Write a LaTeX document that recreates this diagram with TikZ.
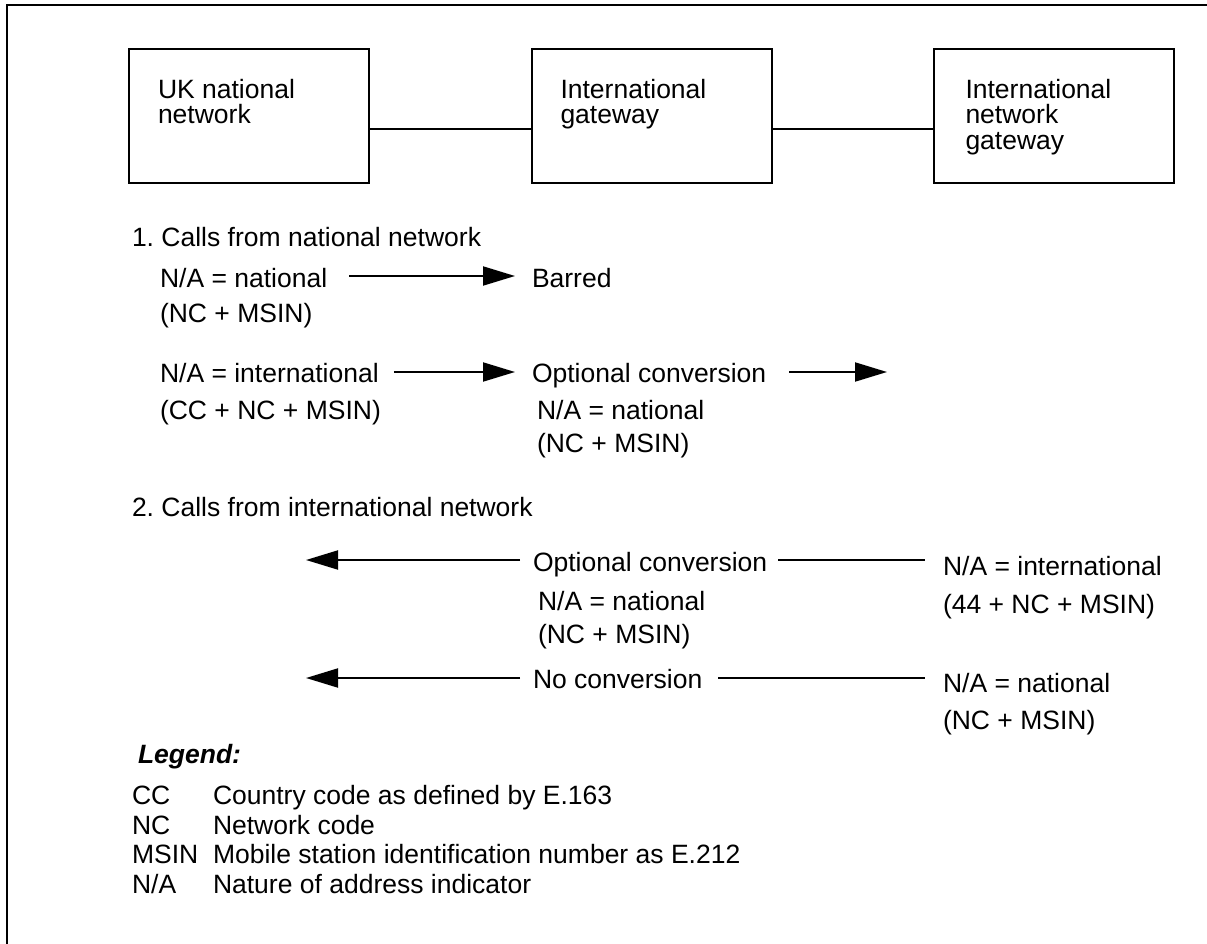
\documentclass[tikz,border=0pt]{standalone}
\usepackage{fontspec}
\setmainfont{Liberation Sans}
\usetikzlibrary{positioning,arrows.meta}
\frenchspacing

\begin{document}
\begin{tikzpicture}[x=1pt, y=-1pt,
    every node/.style={inner sep=0pt, outer sep=0pt, font=\fontsize{26.5pt}{25.5pt}\selectfont},
    box/.style={draw, line width=2pt, minimum width=240pt, minimum height=134pt},
    boxtxt/.style={anchor=north west, align=left},
    txt/.style={anchor=base west},
    link/.style={line width=2pt},
    flow/.style={line width=2pt, -{Triangle[length=32pt, width=19pt]}}]
\useasboundingbox (0,0) rectangle (1207,944);
\draw[line width=2.5pt] (7,960) -- (7,5) -- (1220,5);

\node    (uk)      [box]       at (249,116)      {};
\node    (igw)     [box]       at (651.5,116)    {};
\node    (ingw)    [box]       at (1053.5,116)   {};
\node    (ukT)     [boxtxt]    at ([xshift=29pt,yshift=-30pt]uk.north west)      {UK national\\network};
\node    (igwT)    [boxtxt]    at ([xshift=29pt,yshift=-30pt]igw.north west)     {International\\gateway};
\node    (ingwT)   [boxtxt]    at ([xshift=32pt,yshift=-30pt]ingw.north west)    {International\\network\\gateway};

\path    ([yshift=-13pt]uk.east)     edge[link]    ([yshift=-13pt]igw.west);
\path    ([yshift=-13pt]igw.east)    edge[link]    ([yshift=-13pt]ingw.west);

% 1. calls from national network
\node    (sec1)    [txt]    at (132,246)    {1. Calls from national network};
\node    (natA)    [txt]    at (160,287)    {N/A = national};
\node    (natB)    at (natA.base west) [txt, yshift=-35pt]    {(NC + MSIN)};
\node    (barred)  [txt]    at (532,287)    {Barred};
\node    (intA)    [txt]    at (160,382)    {N/A = international};
\node    (intB)    at (intA.base west) [txt, yshift=-37pt]    {(CC + NC + MSIN)};
\node    (optA)    [txt]    at (532,382)    {Optional conversion};
\node    (optB)    at (optA.base west) [txt, xshift=5pt, yshift=-37pt]    {N/A = national};
\node    (optC)    at (optB.base west) [txt, yshift=-33pt]    {(NC + MSIN)};
\coordinate    (out1)    at (887,372);

\path    ([yshift=11pt]natA.base east)    edge[flow, shorten <=22pt, shorten >=17pt]    ([yshift=11pt]barred.base west);
\path    ([yshift=10pt]intA.base east)    edge[flow, shorten <=15pt, shorten >=17pt]    ([yshift=10pt]optA.base west);
\path    ([yshift=10pt]optA.base east)    edge[flow, shorten <=23pt]    (out1);

% 2. calls from international network
\node    (sec2)    [txt]    at (132,516)    {2. Calls from international network};
\node    (opt2A)   [txt]    at (533,571)    {Optional conversion};
\node    (opt2B)   at (opt2A.base west) [txt, xshift=5pt, yshift=-39pt]    {N/A = national};
\node    (opt2C)   at (opt2B.base west) [txt, yshift=-33pt]    {(NC + MSIN)};
\node    (in2A)    [txt]    at (943,575)    {N/A = international};
\node    (in2B)    at (in2A.base west) [txt, yshift=-38pt]    {(44 + NC + MSIN)};
\node    (noconv)  [txt]    at (533,688)    {No conversion};
\node    (nat2A)   [txt]    at (943,692)    {N/A = national};
\node    (nat2B)   at (nat2A.base west) [txt, yshift=-37pt]    {(NC + MSIN)};
\coordinate    (back1)    at (306,560);
\coordinate    (back2)    at (306,678);

\path    ([yshift=11pt]opt2A.base east)    edge[link, shorten <=11pt, shorten >=18pt]    ([yshift=11pt]opt2A.base east -| in2A.west);
\path    ([yshift=11pt]opt2A.base west)    edge[flow, shorten <=13pt]    (back1);
\path    ([yshift=10pt]noconv.base east)   edge[link, shorten <=16pt, shorten >=18pt]    ([yshift=10pt]noconv.base east -| nat2A.west);
\path    ([yshift=10pt]noconv.base west)   edge[flow, shorten <=13pt]    (back2);

% legend
\node    (leg)     [txt, font=\fontsize{26.5pt}{25.5pt}\selectfont\bfseries\itshape]    at (138,763)    {Legend:};
\node    (ccK)     [txt]    at (132,804)    {CC};
\node    (ncK)     [txt]    at (132,834)    {NC};
\node    (msinK)   [txt]    at (132,863)    {MSIN};
\node    (naK)     [txt]    at (132,893)    {N/A};
\node    (ccV)     at (ccK.base -| 213,0)      [txt]    {Country code as defined by E.163};
\node    (ncV)     at (ncK.base -| 213,0)      [txt]    {Network code};
\node    (msinV)   at (msinK.base -| 213,0)    [txt]    {Mobile station identification number as E.212};
\node    (naV)     at (naK.base -| 213,0)      [txt]    {Nature of address indicator};
\end{tikzpicture}
\end{document}
